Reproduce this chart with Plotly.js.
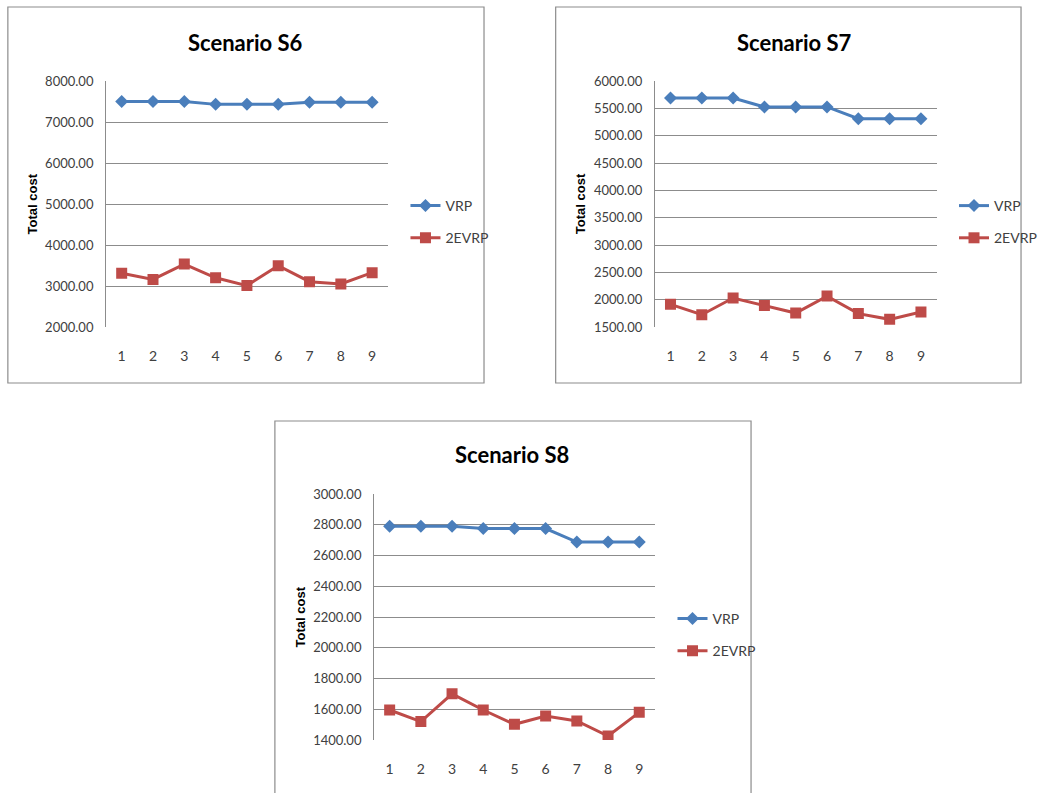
<!DOCTYPE html>
<html>
<head>
<meta charset="utf-8">
<script src="https://cdn.plot.ly/plotly-3.0.1.min.js"></script>
<style>html,body{margin:0;padding:0;background:#fff;}#chart{width:1042px;height:793px;}</style>
</head>
<body>
<div id="chart"></div>
<script>
// ---- Data ----
const runs = [1, 2, 3, 4, 5, 6, 7, 8, 9];
const seriesNames = ["VRP", "2EVRP"];
const titles = ["Scenario S6", "Scenario S7", "Scenario S8"];
const yTitle = "Total cost";

const s6VRP   = [7500, 7500, 7500, 7430, 7430, 7430, 7480, 7480, 7480];
const s6TwoE  = [3310, 3160, 3535, 3200, 3010, 3495, 3105, 3050, 3325];
const s7VRP   = [5690, 5690, 5690, 5525, 5525, 5525, 5310, 5310, 5310];
const s7TwoE  = [1915, 1725, 2030, 1895, 1755, 2065, 1745, 1640, 1775];
const s8VRP   = [2790, 2790, 2790, 2775, 2775, 2775, 2687, 2687, 2687];
const s8TwoE  = [1595, 1520, 1700, 1595, 1502, 1556, 1524, 1426, 1580];

const yRanges = [[2000, 8000], [1500, 6000], [1400, 3000]];
const yDticks = [1000, 500, 200];

// ---- Layout helpers (pixel geometry) ----
const W = 1042, H = 793;
const px = v => v / W;
const py = v => 1 - v / H;

const panels = [
  {plot: [108, 395, 81, 327], box: [8, 493, 7, 383], title: [250, 42], ytitle: [34, 204], legend: [413, 222], data: [s6VRP, s6TwoE]},
  {plot: [667, 954, 81, 327], box: [566, 1040, 7, 383], title: [809, 42], ytitle: [592, 204], legend: [972, 222], data: [s7VRP, s7TwoE]},
  {plot: [381, 667, 494, 740], box: [280, 765, 421, 800], title: [522, 454], ytitle: [306, 617], legend: [685, 635], data: [s8VRP, s8TwoE]}
];

const colors = ["#4a7ebb", "#be4b48"];
const symbols = ["diamond", "square"];
const msizes = [10, 11];
const yTickFont = {family: "Lato, 'Open Sans', sans-serif", size: 13, color: "#404040"};
const xTickFont = {family: "Lato, 'Open Sans', sans-serif", size: 14, color: "#404040"};

const traces = [];
const layout = {
  width: W, height: H,
  margin: {l: 0, r: 0, t: 0, b: 0},
  paper_bgcolor: "#fff", plot_bgcolor: "#fff",
  showlegend: true,
  annotations: [], shapes: []
};

panels.forEach((p, i) => {
  const n = i === 0 ? "" : String(i + 1);
  const xa = "x" + n, ya = "y" + n;
  const legendName = i === 0 ? "legend" : "legend" + (i + 1);
  p.data.forEach((vals, k) => {
    traces.push({
      x: runs, y: vals, type: "scatter", mode: "lines+markers",
      name: seriesNames[k], xaxis: xa, yaxis: ya, legend: legendName,
      legendgroup: "g" + i + "_" + k,
      line: {color: colors[k], width: 3},
      marker: {color: colors[k], symbol: symbols[k], size: msizes[k]},
      hoverinfo: "x+y+name"
    });
  });
  layout["xaxis" + n] = {
    domain: [px(p.plot[0]), px(p.plot[1])], anchor: ya,
    range: [0.5, 9.5], tickmode: "array", tickvals: runs, ticktext: runs.map(String),
    showgrid: false, zeroline: false, showline: false, ticks: "",
    tickfont: xTickFont, ticklabelstandoff: 19, fixedrange: true
  };
  layout["yaxis" + n] = {
    domain: [py(p.plot[3]), py(p.plot[2])], anchor: xa,
    range: yRanges[i], dtick: yDticks[i], tick0: yRanges[i][0], tickformat: ".2f",
    showgrid: true, gridcolor: "#8c8c8c", gridwidth: 1, zeroline: false,
    showline: true, linecolor: "#8c8c8c", linewidth: 1, ticks: "",
    tickfont: yTickFont, ticklabelstandoff: 9, fixedrange: true
  };
  layout[legendName] = {
    x: px(p.legend[0]), y: py(p.legend[1]), xanchor: "left", yanchor: "middle",
    font: {family: "Lato, 'Open Sans', sans-serif", size: 14, color: "#404040"},
    bgcolor: "rgba(0,0,0,0)", borderwidth: 0,
    traceorder: "grouped", tracegroupgap: 11, itemwidth: 30
  };
  layout.annotations.push({
    text: "<b>" + titles[i] + "</b>", xref: "paper", yref: "paper",
    x: px(p.title[0]), y: py(p.title[1]), xanchor: "center", yanchor: "middle",
    showarrow: false, font: {family: "Lato, 'Open Sans', sans-serif", size: 22, color: "#000"}
  });
  layout.annotations.push({
    text: "<b>" + yTitle + "</b>", xref: "paper", yref: "paper",
    x: px(p.ytitle[0]), y: py(p.ytitle[1]), xanchor: "center", yanchor: "middle",
    textangle: -90, showarrow: false,
    font: {family: "'Liberation Sans', Arial, sans-serif", size: 13, color: "#000"}
  });
  layout.shapes.push({
    type: "rect", xref: "paper", yref: "paper",
    x0: px(p.box[0]), x1: px(p.box[1]), y0: py(p.box[3]), y1: py(p.box[2]),
    line: {color: "#8c8c8c", width: 1.2}, fillcolor: "rgba(0,0,0,0)", layer: "below"
  });
});

Plotly.newPlot("chart", traces, layout, {displayModeBar: false, staticPlot: false});
</script>
</body>
</html>
